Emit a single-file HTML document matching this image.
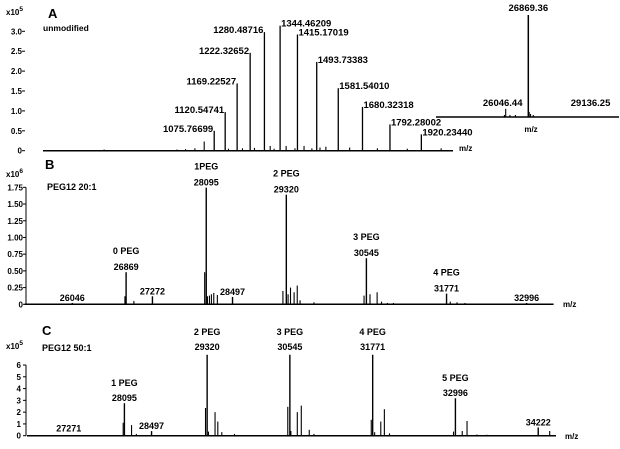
<!DOCTYPE html>
<html><head><meta charset="utf-8"><style>
html,body{margin:0;padding:0;background:#fff}
svg{display:block}
text{font-family:"Liberation Sans",Arial,sans-serif;font-weight:bold;fill:#000}
</style></head><body>
<svg id="fig" width="620" height="449" viewBox="0 0 620 449" xmlns="http://www.w3.org/2000/svg">
<rect width="620" height="449" fill="#fff"/>
<g id="pa"></g>
<g id="pi"></g>
<g id="pb"></g>
<g id="pc"></g>
</svg>
<script>
// Panel A data
const aMz=[1075.77,1120.55,1169.23,1222.33,1280.49,1344.46,1415.17,1493.73,1581.54,1680.32,1792.28,1920.23];
const aVal=[0.50,0.97,1.69,2.46,2.98,3.14,2.92,2.23,1.57,1.10,0.66,0.41];
const aLabels=["1075.76699","1120.54741","1169.22527","1222.32652","1280.48716","1344.46209","1415.17019","1493.73383","1581.54010","1680.32318","1792.28002","1920.23440"];
const aMinorMz=[627,924,959,997,1035,1134,1191,1240,1304,1320,1369,1405,1442,1474,1507,1531,1628,1741,1863,2001];
const aMinorVal=[0.03,0.03,0.04,0.06,0.23,0.05,0.06,0.07,0.12,0.05,0.12,0.06,0.12,0.06,0.08,0.1,0.08,0.06,0.05,0.06];
const aTicks=[0,0.5,1.0,1.5,2.0,2.5,3.0];
const aTickLabels=["0","0.5","1.0","1.5","2.0","2.5","3.0"];
// Inset data
const iMz=[26046.44,26869.36,26000,26200,26400,26900,26950,27050];
const iVal=[0.08,1.0,0.02,0.02,0.02,0.05,0.03,0.02];
const iLabelMz=[26046.44,26869.36,29136.25];
const iLabels=["26046.44","26869.36","29136.25"];
// Panel B data
const bMz=[26046,26869,27272,28095,28497,29320,30545,31771,32996];
const bVal=[0.02,0.48,0.12,1.745,0.11,1.64,0.69,0.16,0.02];
const bLabels=["26046","26869","27272","28095","28497","29320","30545","31771","32996"];
const bPeg=["","0 PEG","","1PEG","","2 PEG","3 PEG","4 PEG",""];
const bMinorMz=[26851,26988,28071,28113,28144,28174,28210,28265,29268,29347,29384,29439,29487,29530,29743,30509,30600,30709,30776,30867,30959,31828,31931,32053];
const bMinorVal=[0.12,0.05,0.48,0.12,0.13,0.15,0.17,0.14,0.2,0.15,0.25,0.18,0.28,0.06,0.03,0.13,0.15,0.18,0.04,0.02,0.02,0.04,0.03,0.02];
const bTicks=[0,0.25,0.5,0.75,1.0,1.25,1.5,1.75];
const bTickLabels=["0","0.25","0.50","0.75","1.00","1.25","1.50","1.75"];
// Panel C data
const cMz=[27271,28095,28497,29320,30545,31771,32996,34222];
const cVal=[0.02,2.76,0.39,6.87,6.87,6.87,3.18,0.7];
const cLabels=["27271","28095","28497","29320","30545","31771","32996","34222"];
const cPeg=["","1 PEG","","2 PEG","3 PEG","4 PEG","5 PEG",""];
const cMinorMz=[26871,26989,28077,28201,28272,29296,29340,29437,29478,29537,29725,30514,30560,30655,30714,30832,30902,31750,31800,31891,31944,32020,32968,33097,33168,33315,33462,34392];
const cMinorVal=[0.05,0.03,1.1,0.9,0.15,2.35,0.35,2.0,1.2,0.3,0.15,2.45,0.4,2.0,2.55,0.5,0.15,1.35,0.3,1.2,2.25,0.2,0.35,0.4,1.25,0.1,0.08,0.4];
const cTicks=[0,1,2,3,4,5,6];
const cTickLabels=["0","1","2","3","4","5","6"];

const NS="http://www.w3.org/2000/svg";
function el(parent,tag,attrs,txt){const e=document.createElementNS(NS,tag);for(const k in attrs)e.setAttribute(k,attrs[k]);if(txt!==undefined)e.textContent=txt;parent.appendChild(e);return e;}

const xA=m=>214.2+(m-1075.77)*0.2453, yA=v=>150.7-v*39.8;
const xI=m=>505.7+(m-26046.44)*0.02747, yI=v=>117-v*102;
const xB=m=>72.3+(m-26046)*0.06537, yB=v=>304.3-v*66.84;
const xC=m=>124.4+(m-28095)*0.06754, yC=v=>435.7-v*11.78;

function peak(g,x,y0,y1,name,w){
  const l=el(g,'line',{x1:x,x2:x,y1:y0,y2:y1,stroke:'#000','stroke-width':w||1.1});
  
  
}
function txt(g,x,y,s,size,anchor,name){
  const t=el(g,'text',{x:x,y:y,'font-size':size,'text-anchor':anchor||'middle'},s);
  
  
  return t;
}
function axis(g,x0,x1,y,name){
  const l=el(g,'line',{x1:x0,x2:x1,y1:y,y2:y,stroke:'#000','stroke-width':1.5});
  
  
}
function yTicks(g,ticks,labels,yf,ax,lx,vline){
  if(vline){const v=el(g,'line',{x1:ax,x2:ax,y1:yf(ticks[0]),y2:yf(ticks[ticks.length-1]),stroke:'#000','stroke-width':1});
    
    }
  ticks.forEach((t,i)=>{
    const l=el(g,'line',{x1:ax-3,x2:ax,y1:yf(t),y2:yf(t),stroke:'#000','stroke-width':1});
    
    
    txt(g,lx,yf(t)+3,labels[i],8,'end','y-tick-label');
  });
}
function expLabel(g,x,y,e){
  const t=el(g,'text',{x:x,y:y,'font-size':8,'text-anchor':'start'},'x10');
  const s=el(t,'tspan',{dy:-4,'font-size':6.5},e);
  
  
}

// Panel A
const ga=document.getElementById('pa');
axis(ga,43,453,yA(0),'x-axis');
yTicks(ga,aTicks,aTickLabels,yA,25,22,false);
expLabel(ga,6,15,'5');
txt(ga,48,18,'A',13,'start','panel-label-a');
txt(ga,43,31,'unmodified',8.5,'start','condition-label');
txt(ga,459,151,'m/z',8,'start','x-axis-title');
aMinorMz.forEach((m,i)=>peak(ga,xA(m),yA(0),yA(aMinorVal[i]),'minor-peak'));
aMz.forEach((m,i)=>{
  peak(ga,xA(m),yA(0),yA(aVal[i]),'peak-'+aLabels[i],1.3);
  const right=m>1300;
  txt(ga,xA(m)+(right?1:-1),yA(aVal[i])+1,aLabels[i],9.5,right?'start':'end','peak-label');
});

// Inset
const gi=document.getElementById('pi');
axis(gi,436,619,yI(0),'inset-x-axis');
iMz.forEach((m,i)=>peak(gi,xI(m),yI(0),yI(iVal[i]),'inset-peak',i===1?1.5:1.1));
iLabelMz.forEach((m,i)=>{
  const v=i<2?iVal[i]:0.08;
  txt(gi,xI(m)-(i===0?3:0),yI(v)-(i===1?4:3),iLabels[i],9.5,'middle','inset-peak-label');
});
txt(gi,531,132,'m/z',8,'middle','inset-x-axis-title');

// Panel B
const gb=document.getElementById('pb');
axis(gb,24.6,553.6,yB(0),'x-axis');
yTicks(gb,bTicks,bTickLabels,yB,26,23,true);
expLabel(gb,6,177,'6');
txt(gb,45,169,'B',13,'start','panel-label-b');
txt(gb,47,190,'PEG12 20:1',9,'start','condition-label');
txt(gb,563,307,'m/z',8,'start','x-axis-title');
bMinorMz.forEach((m,i)=>peak(gb,xB(m),yB(0),yB(bMinorVal[i]),'minor-peak'));
bMz.forEach((m,i)=>{
  peak(gb,xB(m),yB(0),yB(bVal[i]),'peak-'+bLabels[i],1.4);
  const yl=yB(bVal[i])-2;
  txt(gb,xB(m),yl,bLabels[i],9,'middle','peak-label');
  if(bPeg[i])txt(gb,xB(m),yl-16,bPeg[i],9,'middle','peg-label');
});

// Panel C
const gc=document.getElementById('pc');
axis(gc,27,556,yC(0),'x-axis');
yTicks(gc,cTicks,cTickLabels,yC,26,21,true);
expLabel(gc,6,349,'5');
txt(gc,42,335,'C',13,'start','panel-label-c');
txt(gc,42,351,'PEG12 50:1',9,'start','condition-label');
txt(gc,565,439,'m/z',8,'start','x-axis-title');
cMinorMz.forEach((m,i)=>peak(gc,xC(m),yC(0),yC(cMinorVal[i]),'minor-peak'));
cMz.forEach((m,i)=>{
  peak(gc,xC(m),yC(0),yC(cVal[i]),'peak-'+cLabels[i],1.4);
  let yl=yC(cVal[i])-2;
  if(cVal[i]>6)yl=yC(cVal[i])-5;
  if(i===0)yl=yC(0)-4;
  txt(gc,xC(m),yl,cLabels[i],9,'middle','peak-label');
  if(cPeg[i])txt(gc,xC(m),yl-15,cPeg[i],9,'middle','peg-label');
});
</script>
</body></html>
